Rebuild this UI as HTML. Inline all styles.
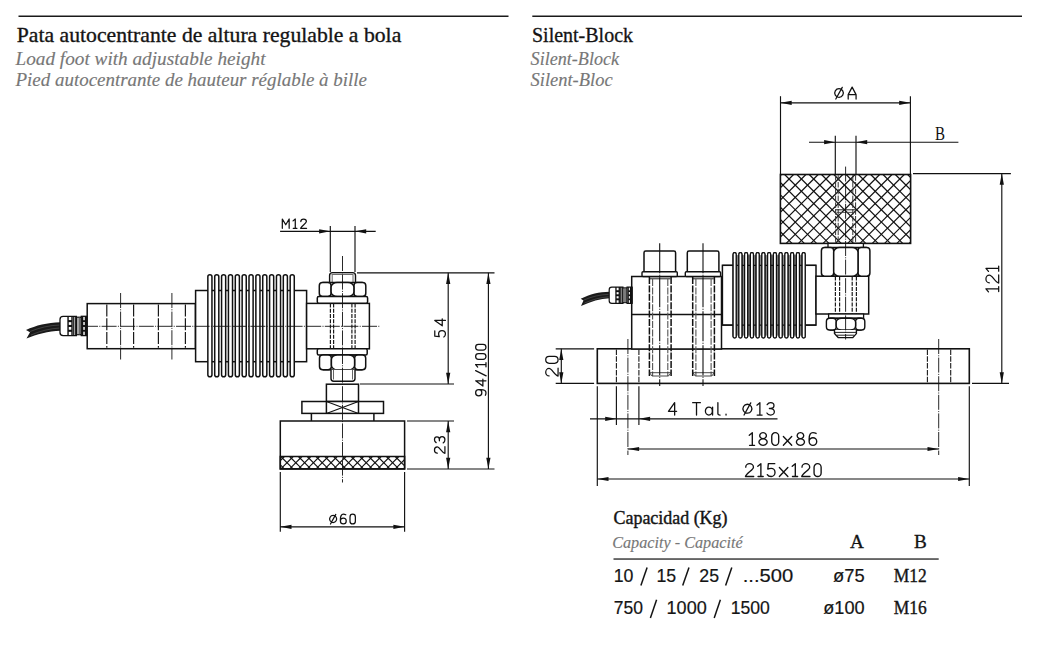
<!DOCTYPE html>
<html><head><meta charset="utf-8"><style>
html,body{margin:0;padding:0;background:#fff;width:1051px;height:653px;overflow:hidden}
svg{position:absolute;left:0;top:0}
text{font-family:"Liberation Serif",serif}
.sans{font-family:"Liberation Sans",sans-serif}
</style></head><body>
<svg width="1051" height="653" viewBox="0 0 1051 653">
<rect width="1051" height="653" fill="#fff"/>
<g>
<text x="16.8" y="41.9" font-size="20.6" fill="#141414" stroke="#141414" stroke-width="0.32" textLength="384.5" lengthAdjust="spacingAndGlyphs">Pata autocentrante de altura regulable a bola</text>
<text x="15.5" y="64.7" font-size="18.6" font-style="italic" fill="#777" stroke="#777" stroke-width="0.15" textLength="250" lengthAdjust="spacingAndGlyphs">Load foot with adjustable height</text>
<text x="15.5" y="86.2" font-size="18.6" font-style="italic" fill="#777" stroke="#777" stroke-width="0.15" textLength="351.5" lengthAdjust="spacingAndGlyphs">Pied autocentrante de hauteur réglable à bille</text>
<text x="532" y="41.9" font-size="20.6" fill="#141414" stroke="#141414" stroke-width="0.32" textLength="101" lengthAdjust="spacingAndGlyphs">Silent-Block</text>
<text x="530.6" y="64.7" font-size="18.6" font-style="italic" fill="#777" stroke="#777" stroke-width="0.15" textLength="88.5" lengthAdjust="spacingAndGlyphs">Silent-Block</text>
<text x="530.6" y="86.2" font-size="18.6" font-style="italic" fill="#777" stroke="#777" stroke-width="0.15" textLength="82" lengthAdjust="spacingAndGlyphs">Silent-Bloc</text>
</g>
<line x1="18.5" y1="16.3" x2="508.5" y2="16.3" stroke="#1a1a1a" stroke-width="1.4"/><line x1="532.3" y1="16.3" x2="1022" y2="16.3" stroke="#1a1a1a" stroke-width="1.4"/><path d="M26,330 C36,325.5 47,322.6 60.5,322.3 L60.5,330.7 C48,331.2 37,334 26.5,338.6 L30,332.3 Z" fill="#1a1a1a"/><path d="M30,331.5 C40,327.5 49,325.4 60,325 M31,335 C40,331 50,328.5 60,328" stroke="#666" stroke-width="0.5" fill="none"/><path d="M68.19,316.3 H63.09 Q60,316.3 60,319.39 V332.51 Q60,335.6 63.09,335.6 H76.38 V316.3 Z" fill="#fff" stroke="#111" stroke-width="1.3"/><path d="M68.05,316.3 V335.6 M72.01,316.3 V335.6" stroke="#111" stroke-width="1.43"/><line x1="68.05" y1="321.12" x2="72.01" y2="321.12" stroke="#111" stroke-width="2.08"/><line x1="68.05" y1="325.95" x2="72.01" y2="325.95" stroke="#111" stroke-width="2.08"/><line x1="68.05" y1="330.78" x2="72.01" y2="330.78" stroke="#111" stroke-width="2.08"/><path d="M73.65,316.3 V335.6 M75.29,316.3 V335.6" stroke="#111" stroke-width="1.04"/><rect x="76.38" y="317.26" width="4.91" height="17.37" fill="#fff" stroke="#111" stroke-width="1.3"/><path d="M78.02,317.26 V334.64 M79.66,317.26 V334.64" stroke="#555" stroke-width="1.04"/><rect x="81.29" y="316.3" width="6.01" height="19.30" fill="#fff" stroke="#111" stroke-width="1.3"/><path d="M82.66,316.3 V335.6 M85.39,316.3 V335.6" stroke="#111" stroke-width="1.3"/><line x1="82.66" y1="321.12" x2="85.39" y2="321.12" stroke="#111" stroke-width="1.82"/><line x1="82.66" y1="325.95" x2="85.39" y2="325.95" stroke="#111" stroke-width="1.82"/><line x1="82.66" y1="330.78" x2="85.39" y2="330.78" stroke="#111" stroke-width="1.82"/><line x1="86.70" y1="316.3" x2="86.70" y2="335.6" stroke="#111" stroke-width="2.08"/><rect x="87.2" y="303.6" width="108.20" height="45.10" fill="#fff" stroke="#111" stroke-width="1.5"/><line x1="106.8" y1="304.5" x2="106.8" y2="347.8" stroke="#1a1a1a" stroke-width="1.2" stroke-dasharray="12 1.8"/><line x1="133.6" y1="304.5" x2="133.6" y2="347.8" stroke="#1a1a1a" stroke-width="1.2" stroke-dasharray="12 1.8"/><line x1="158.4" y1="304.5" x2="158.4" y2="347.8" stroke="#1a1a1a" stroke-width="1.2" stroke-dasharray="12 1.8"/><line x1="185.4" y1="304.5" x2="185.4" y2="347.8" stroke="#1a1a1a" stroke-width="1.2" stroke-dasharray="12 1.8"/><rect x="195.6" y="290.5" width="111.00" height="71.20" fill="#fff" stroke="#111" stroke-width="1.5"/><rect x="207.85" y="274.65" width="4.10" height="102.20" rx="2.05" fill="#fff" stroke="#111" stroke-width="1.5"/><rect x="214.71" y="274.65" width="4.10" height="102.20" rx="2.05" fill="#fff" stroke="#111" stroke-width="1.5"/><rect x="221.57" y="274.65" width="4.10" height="102.20" rx="2.05" fill="#fff" stroke="#111" stroke-width="1.5"/><rect x="228.43" y="274.65" width="4.10" height="102.20" rx="2.05" fill="#fff" stroke="#111" stroke-width="1.5"/><rect x="235.29" y="274.65" width="4.10" height="102.20" rx="2.05" fill="#fff" stroke="#111" stroke-width="1.5"/><rect x="242.15" y="274.65" width="4.10" height="102.20" rx="2.05" fill="#fff" stroke="#111" stroke-width="1.5"/><rect x="249.01" y="274.65" width="4.10" height="102.20" rx="2.05" fill="#fff" stroke="#111" stroke-width="1.5"/><rect x="255.87" y="274.65" width="4.10" height="102.20" rx="2.05" fill="#fff" stroke="#111" stroke-width="1.5"/><rect x="262.73" y="274.65" width="4.10" height="102.20" rx="2.05" fill="#fff" stroke="#111" stroke-width="1.5"/><rect x="269.59" y="274.65" width="4.10" height="102.20" rx="2.05" fill="#fff" stroke="#111" stroke-width="1.5"/><rect x="276.45" y="274.65" width="4.10" height="102.20" rx="2.05" fill="#fff" stroke="#111" stroke-width="1.5"/><rect x="283.31" y="274.65" width="4.10" height="102.20" rx="2.05" fill="#fff" stroke="#111" stroke-width="1.5"/><rect x="290.17" y="274.65" width="4.10" height="102.20" rx="2.05" fill="#fff" stroke="#111" stroke-width="1.5"/><rect x="306.6" y="303.4" width="62.80" height="45.40" fill="#fff" stroke="#111" stroke-width="1.5"/><path d="M329.6,282.5 V275.5 Q329.6,272.6 332.5,272.6 H352.6 Q355.5,272.6 355.5,275.5 V282.5" fill="#fff" stroke="#111" stroke-width="1.4"/><line x1="331.5" y1="274.3" x2="353.5" y2="274.3" stroke="#333" stroke-width="0.9"/><line x1="332.2" y1="275" x2="332.2" y2="282.5" stroke="#555" stroke-width="0.9"/><line x1="353" y1="275" x2="353" y2="282.5" stroke="#555" stroke-width="0.9"/><path d="M322.5,282.5 H362.6 M322.5,296.5 H362.6" stroke="#111" stroke-width="1.5"/><rect x="319.3" y="282.5" width="11.80" height="14.00" rx="3.20" ry="3.20" fill="#fff" stroke="#111" stroke-width="1.5"/><rect x="353.9" y="282.5" width="11.90" height="14.00" rx="3.20" ry="3.20" fill="#fff" stroke="#111" stroke-width="1.5"/><rect x="331.1" y="282.5" width="22.80" height="14.00" rx="6.00" ry="4.50" fill="#fff" stroke="#111" stroke-width="1.5"/><rect x="317.3" y="296.5" width="50.30" height="6.70" fill="#fff" stroke="#111" stroke-width="1.5" rx="1.5"/><rect x="317.3" y="348.8" width="49.90" height="6.10" fill="#fff" stroke="#111" stroke-width="1.5" rx="1.5"/><path d="M322.7,354.9 H362.5 M322.7,369.8 H362.5" stroke="#111" stroke-width="1.5"/><rect x="319.5" y="354.9" width="11.90" height="14.90" rx="3.20" ry="3.20" fill="#fff" stroke="#111" stroke-width="1.5"/><rect x="354.6" y="354.9" width="11.10" height="14.90" rx="3.20" ry="3.20" fill="#fff" stroke="#111" stroke-width="1.5"/><rect x="331.4" y="354.9" width="23.20" height="14.90" rx="6.00" ry="4.50" fill="#fff" stroke="#111" stroke-width="1.5"/><path d="M331,369.8 V378.5 Q331,381.2 333.7,381.2 H352.3 Q355,381.2 355,378.5 V369.8" fill="#fff" stroke="#111" stroke-width="1.4"/><line x1="333.5" y1="370" x2="333.5" y2="379.5" stroke="#555" stroke-width="0.9"/><line x1="352.5" y1="370" x2="352.5" y2="379.5" stroke="#555" stroke-width="0.9"/><line x1="330.4" y1="303.6" x2="330.4" y2="348.6" stroke="#1a1a1a" stroke-width="1.2" stroke-dasharray="4 1.2"/><line x1="333.6" y1="303.6" x2="333.6" y2="348.6" stroke="#1a1a1a" stroke-width="1.2" stroke-dasharray="4 1.2"/><line x1="351.9" y1="303.6" x2="351.9" y2="348.6" stroke="#1a1a1a" stroke-width="1.2" stroke-dasharray="4 1.2"/><line x1="355.1" y1="303.6" x2="355.1" y2="348.6" stroke="#1a1a1a" stroke-width="1.2" stroke-dasharray="4 1.2"/><rect x="326.4" y="384.2" width="32.10" height="17.30" fill="#fff" stroke="#111" stroke-width="1.5"/><rect x="301.9" y="401.5" width="81.60" height="11.90" fill="#fff" stroke="#111" stroke-width="1.5"/><line x1="326.4" y1="401.5" x2="358.5" y2="413.4" stroke="#111" stroke-width="1.1"/><line x1="326.4" y1="413.4" x2="358.5" y2="401.5" stroke="#111" stroke-width="1.1"/><line x1="326.4" y1="401.5" x2="326.4" y2="413.4" stroke="#111" stroke-width="1.5"/><line x1="358.5" y1="401.5" x2="358.5" y2="413.4" stroke="#111" stroke-width="1.5"/><line x1="311.4" y1="413.4" x2="311.4" y2="421" stroke="#111" stroke-width="1.5"/><line x1="373.9" y1="413.4" x2="373.9" y2="421" stroke="#111" stroke-width="1.5"/><rect x="280.3" y="421" width="124.30" height="48.00" fill="#fff" stroke="#111" stroke-width="1.5"/><clipPath id="hp"><rect x="280.3" y="456.5" width="124.30000000000001" height="12.300000000000011"/></clipPath><g clip-path="url(#hp)" stroke="#111" stroke-width="1.1"><line x1="421.60" y1="456.5" x2="433.90" y2="468.8"/><line x1="412.80" y1="456.5" x2="425.10" y2="468.8"/><line x1="404.00" y1="456.5" x2="416.30" y2="468.8"/><line x1="395.20" y1="456.5" x2="407.50" y2="468.8"/><line x1="386.40" y1="456.5" x2="398.70" y2="468.8"/><line x1="377.60" y1="456.5" x2="389.90" y2="468.8"/><line x1="368.80" y1="456.5" x2="381.10" y2="468.8"/><line x1="360.00" y1="456.5" x2="372.30" y2="468.8"/><line x1="351.20" y1="456.5" x2="363.50" y2="468.8"/><line x1="342.40" y1="456.5" x2="354.70" y2="468.8"/><line x1="333.60" y1="456.5" x2="345.90" y2="468.8"/><line x1="324.80" y1="456.5" x2="337.10" y2="468.8"/><line x1="316.00" y1="456.5" x2="328.30" y2="468.8"/><line x1="307.20" y1="456.5" x2="319.50" y2="468.8"/><line x1="298.40" y1="456.5" x2="310.70" y2="468.8"/><line x1="289.60" y1="456.5" x2="301.90" y2="468.8"/><line x1="280.80" y1="456.5" x2="293.10" y2="468.8"/><line x1="272.00" y1="456.5" x2="284.30" y2="468.8"/><line x1="263.20" y1="456.5" x2="275.50" y2="468.8"/><line x1="254.40" y1="456.5" x2="266.70" y2="468.8"/><line x1="266.80" y1="456.5" x2="254.50" y2="468.8"/><line x1="275.60" y1="456.5" x2="263.30" y2="468.8"/><line x1="284.40" y1="456.5" x2="272.10" y2="468.8"/><line x1="293.20" y1="456.5" x2="280.90" y2="468.8"/><line x1="302.00" y1="456.5" x2="289.70" y2="468.8"/><line x1="310.80" y1="456.5" x2="298.50" y2="468.8"/><line x1="319.60" y1="456.5" x2="307.30" y2="468.8"/><line x1="328.40" y1="456.5" x2="316.10" y2="468.8"/><line x1="337.20" y1="456.5" x2="324.90" y2="468.8"/><line x1="346.00" y1="456.5" x2="333.70" y2="468.8"/><line x1="354.80" y1="456.5" x2="342.50" y2="468.8"/><line x1="363.60" y1="456.5" x2="351.30" y2="468.8"/><line x1="372.40" y1="456.5" x2="360.10" y2="468.8"/><line x1="381.20" y1="456.5" x2="368.90" y2="468.8"/><line x1="390.00" y1="456.5" x2="377.70" y2="468.8"/><line x1="398.80" y1="456.5" x2="386.50" y2="468.8"/><line x1="407.60" y1="456.5" x2="395.30" y2="468.8"/><line x1="416.40" y1="456.5" x2="404.10" y2="468.8"/><line x1="425.20" y1="456.5" x2="412.90" y2="468.8"/><line x1="434.00" y1="456.5" x2="421.70" y2="468.8"/></g><rect x="280.3" y="456.5" width="124.3" height="12.3" fill="none" stroke="#111" stroke-width="1.5"/><line x1="83" y1="326.3" x2="380" y2="326.3" stroke="#111" stroke-width="0.9" stroke-dasharray="15 1.3 1 1.3"/><line x1="120.6" y1="293" x2="120.6" y2="359.5" stroke="#111" stroke-width="0.9" stroke-dasharray="15 1.3 1 1.3"/><line x1="171.9" y1="293" x2="171.9" y2="359.5" stroke="#111" stroke-width="0.9" stroke-dasharray="15 1.3 1 1.3"/><line x1="342.5" y1="256" x2="342.5" y2="482.5" stroke="#111" stroke-width="0.9" stroke-dasharray="15 1.3 1 1.3"/><line x1="330.3" y1="226" x2="330.3" y2="272" stroke="#111" stroke-width="1.15"/><line x1="355" y1="226" x2="355" y2="272" stroke="#111" stroke-width="1.15"/><line x1="280.1" y1="231.3" x2="375.7" y2="231.3" stroke="#111" stroke-width="1.15"/><path d="M330.3,231.3 L319.10,233.40 L319.10,229.20 Z" fill="#111"/><path d="M355,231.3 L366.20,229.20 L366.20,233.40 Z" fill="#111"/><g fill="none" stroke="#111" stroke-width="1.25" stroke-linecap="round" stroke-linejoin="round" style="vector-effect:none"><path vector-effect="non-scaling-stroke" transform="translate(282.32,219.03) scale(9.250)" d="M0,1 V0 L0.37,0.62 L0.74,0 V1"/><path vector-effect="non-scaling-stroke" transform="translate(293.06,219.03) scale(9.250)" d="M0,0.2 L0.24,0 V1 M0.02,1 H0.42"/><path vector-effect="non-scaling-stroke" transform="translate(300.64,219.03) scale(9.250)" d="M0.02,0.27 A0.3,0.27 0 0 1 0.62,0.27 C0.62,0.5 0.08,0.7 0,1 H0.64"/></g><line x1="357" y1="272.8" x2="494.5" y2="272.8" stroke="#111" stroke-width="1.15"/><line x1="360" y1="384" x2="454" y2="384" stroke="#111" stroke-width="1.15"/><line x1="407" y1="421" x2="454" y2="421" stroke="#111" stroke-width="1.15"/><line x1="407" y1="469" x2="494.5" y2="469" stroke="#111" stroke-width="1.15"/><line x1="448.2" y1="272.8" x2="448.2" y2="384" stroke="#111" stroke-width="1.15"/><path d="M448.2,272.8 L450.30,284.00 L446.10,284.00 Z" fill="#111"/><path d="M448.2,384 L446.10,372.80 L450.30,372.80 Z" fill="#111"/><line x1="448.2" y1="421" x2="448.2" y2="469" stroke="#111" stroke-width="1.15"/><path d="M448.2,421 L450.30,432.20 L446.10,432.20 Z" fill="#111"/><path d="M448.2,469 L446.10,457.80 L450.30,457.80 Z" fill="#111"/><line x1="488.4" y1="272.8" x2="488.4" y2="469" stroke="#111" stroke-width="1.15"/><path d="M488.4,272.8 L490.50,284.00 L486.30,284.00 Z" fill="#111"/><path d="M488.4,469 L486.30,457.80 L490.50,457.80 Z" fill="#111"/><g transform="rotate(-90 440.1 328)" fill="none" stroke="#111" stroke-width="1.25" stroke-linecap="round" stroke-linejoin="round" style="vector-effect:none"><path vector-effect="non-scaling-stroke" transform="translate(431.08,322.68) scale(10.650)" d="M0.58,0 H0.08 L0.04,0.42 C0.12,0.38 0.22,0.36 0.3,0.36 A0.3,0.32 0 0 1 0.3,1 C0.18,1 0.06,0.96 0,0.85"/><path vector-effect="non-scaling-stroke" transform="translate(442.31,322.68) scale(10.650)" d="M0.5,1 V0 L0,0.7 H0.66"/></g><g transform="rotate(-90 480.8 370.1)" fill="none" stroke="#111" stroke-width="1.25" stroke-linecap="round" stroke-linejoin="round" style="vector-effect:none"><path vector-effect="non-scaling-stroke" transform="translate(455.07,364.93) scale(10.350)" d="M0.05,0.94 C0.13,0.98 0.22,1 0.3,1 C0.5,1 0.6,0.78 0.6,0.5 V0.3 A0.3,0.3 0 0 0 0,0.3 A0.3,0.3 0 0 0 0.6,0.3"/><path vector-effect="non-scaling-stroke" transform="translate(464.87,364.93) scale(10.350)" d="M0.5,1 V0 L0,0.7 H0.66"/><path vector-effect="non-scaling-stroke" transform="translate(475.08,364.93) scale(10.350)" d="M0,1.02 L0.5,0"/><path vector-effect="non-scaling-stroke" transform="translate(483.83,364.93) scale(10.350)" d="M0,0.2 L0.24,0 V1 M0.02,1 H0.42"/><path vector-effect="non-scaling-stroke" transform="translate(491.56,364.93) scale(10.350)" d="M0,0.28 A0.275,0.28 0 0 1 0.55,0.28 V0.72 A0.275,0.28 0 0 1 0,0.72 Z"/><path vector-effect="non-scaling-stroke" transform="translate(500.83,364.93) scale(10.350)" d="M0,0.28 A0.275,0.28 0 0 1 0.55,0.28 V0.72 A0.275,0.28 0 0 1 0,0.72 Z"/></g><g transform="rotate(-90 439.7 445)" fill="none" stroke="#111" stroke-width="1.25" stroke-linecap="round" stroke-linejoin="round" style="vector-effect:none"><path vector-effect="non-scaling-stroke" transform="translate(431.27,439.77) scale(10.450)" d="M0.02,0.27 A0.3,0.27 0 0 1 0.62,0.27 C0.62,0.5 0.08,0.7 0,1 H0.64"/><path vector-effect="non-scaling-stroke" transform="translate(441.85,439.77) scale(10.450)" d="M0.02,0.16 C0.1,0.04 0.2,0 0.3,0 A0.27,0.235 0 0 1 0.3,0.47 H0.2 M0.3,0.47 A0.3,0.265 0 0 1 0.3,1 C0.18,1 0.06,0.96 0,0.84"/></g><line x1="280.3" y1="472" x2="280.3" y2="531.8" stroke="#111" stroke-width="1.15"/><line x1="404.6" y1="472" x2="404.6" y2="531.8" stroke="#111" stroke-width="1.15"/><line x1="280.3" y1="526.8" x2="404.6" y2="526.8" stroke="#111" stroke-width="1.15"/><path d="M280.3,526.8 L291.50,524.70 L291.50,528.90 Z" fill="#111"/><path d="M404.6,526.8 L393.40,528.90 L393.40,524.70 Z" fill="#111"/><g fill="none" stroke="#111" stroke-width="1.25" stroke-linecap="round" stroke-linejoin="round" style="vector-effect:none"><path vector-effect="non-scaling-stroke" transform="translate(329.62,514.23) scale(9.750)" d="M0.36,0.13 A0.36,0.36 0 1 1 0.359,0.13 Z M0.09,1.0 L0.63,0.02"/><path vector-effect="non-scaling-stroke" transform="translate(340.40,514.23) scale(9.750)" d="M0.55,0.06 C0.47,0.02 0.38,0 0.3,0 C0.1,0 0,0.22 0,0.5 V0.7 A0.3,0.3 0 0 0 0.6,0.7 A0.3,0.3 0 0 0 0,0.7"/><path vector-effect="non-scaling-stroke" transform="translate(350.01,514.23) scale(9.750)" d="M0,0.28 A0.275,0.28 0 0 1 0.55,0.28 V0.72 A0.275,0.28 0 0 1 0,0.72 Z"/></g><line x1="780.5" y1="96.2" x2="780.5" y2="174" stroke="#111" stroke-width="1.15"/><line x1="910.4" y1="96.2" x2="910.4" y2="174" stroke="#111" stroke-width="1.15"/><line x1="780.5" y1="102.8" x2="910.4" y2="102.8" stroke="#111" stroke-width="1.15"/><path d="M780.5,102.8 L791.70,100.70 L791.70,104.90 Z" fill="#111"/><path d="M910.4,102.8 L899.20,104.90 L899.20,100.70 Z" fill="#111"/><g fill="none" stroke="#111" stroke-width="1.25" stroke-linecap="round" stroke-linejoin="round" style="vector-effect:none"><path vector-effect="non-scaling-stroke" transform="translate(834.73,87.12) scale(11.950)" d="M0.36,0.13 A0.36,0.36 0 1 1 0.359,0.13 Z M0.09,1.0 L0.63,0.02"/><path vector-effect="non-scaling-stroke" transform="translate(848.19,87.12) scale(11.950)" d="M0,1 V0.63 L0.33,0 L0.66,0.63 V1 M0,0.63 H0.66"/></g><line x1="809" y1="142.2" x2="958.4" y2="142.2" stroke="#111" stroke-width="1.15"/><line x1="835.3" y1="135.8" x2="835.3" y2="174" stroke="#111" stroke-width="1.15"/><line x1="856" y1="135.8" x2="856" y2="174" stroke="#111" stroke-width="1.15"/><path d="M835.3,142.2 L824.10,144.30 L824.10,140.10 Z" fill="#111"/><path d="M856,142.2 L867.20,140.10 L867.20,144.30 Z" fill="#111"/><text x="935" y="139.7" font-family="Liberation Serif" font-size="19.5" fill="#111" textLength="10" lengthAdjust="spacingAndGlyphs">B</text><rect x="780.4" y="174.5" width="130.2" height="68.9" fill="#fff"/><clipPath id="hb"><rect x="780.4" y="174.5" width="130.20000000000005" height="68.9"/></clipPath><g clip-path="url(#hb)" stroke="#111" stroke-width="1.2"><line x1="932.20" y1="174.5" x2="1001.10" y2="243.4"/><line x1="919.90" y1="174.5" x2="988.80" y2="243.4"/><line x1="907.60" y1="174.5" x2="976.50" y2="243.4"/><line x1="895.30" y1="174.5" x2="964.20" y2="243.4"/><line x1="883.00" y1="174.5" x2="951.90" y2="243.4"/><line x1="870.70" y1="174.5" x2="939.60" y2="243.4"/><line x1="858.40" y1="174.5" x2="927.30" y2="243.4"/><line x1="846.10" y1="174.5" x2="915.00" y2="243.4"/><line x1="833.80" y1="174.5" x2="902.70" y2="243.4"/><line x1="821.50" y1="174.5" x2="890.40" y2="243.4"/><line x1="809.20" y1="174.5" x2="878.10" y2="243.4"/><line x1="796.90" y1="174.5" x2="865.80" y2="243.4"/><line x1="784.60" y1="174.5" x2="853.50" y2="243.4"/><line x1="772.30" y1="174.5" x2="841.20" y2="243.4"/><line x1="760.00" y1="174.5" x2="828.90" y2="243.4"/><line x1="747.70" y1="174.5" x2="816.60" y2="243.4"/><line x1="735.40" y1="174.5" x2="804.30" y2="243.4"/><line x1="723.10" y1="174.5" x2="792.00" y2="243.4"/><line x1="710.80" y1="174.5" x2="779.70" y2="243.4"/><line x1="698.50" y1="174.5" x2="767.40" y2="243.4"/><line x1="756.70" y1="174.5" x2="687.80" y2="243.4"/><line x1="769.00" y1="174.5" x2="700.10" y2="243.4"/><line x1="781.30" y1="174.5" x2="712.40" y2="243.4"/><line x1="793.60" y1="174.5" x2="724.70" y2="243.4"/><line x1="805.90" y1="174.5" x2="737.00" y2="243.4"/><line x1="818.20" y1="174.5" x2="749.30" y2="243.4"/><line x1="830.50" y1="174.5" x2="761.60" y2="243.4"/><line x1="842.80" y1="174.5" x2="773.90" y2="243.4"/><line x1="855.10" y1="174.5" x2="786.20" y2="243.4"/><line x1="867.40" y1="174.5" x2="798.50" y2="243.4"/><line x1="879.70" y1="174.5" x2="810.80" y2="243.4"/><line x1="892.00" y1="174.5" x2="823.10" y2="243.4"/><line x1="904.30" y1="174.5" x2="835.40" y2="243.4"/><line x1="916.60" y1="174.5" x2="847.70" y2="243.4"/><line x1="928.90" y1="174.5" x2="860.00" y2="243.4"/><line x1="941.20" y1="174.5" x2="872.30" y2="243.4"/><line x1="953.50" y1="174.5" x2="884.60" y2="243.4"/><line x1="965.80" y1="174.5" x2="896.90" y2="243.4"/><line x1="978.10" y1="174.5" x2="909.20" y2="243.4"/><line x1="990.40" y1="174.5" x2="921.50" y2="243.4"/><line x1="1002.70" y1="174.5" x2="933.80" y2="243.4"/></g><rect x="780.4" y="174.5" width="130.20" height="68.90" fill="none" stroke="#111" stroke-width="1.6"/><line x1="835.6" y1="175.2" x2="835.6" y2="242.8" stroke="#333" stroke-width="1.0" stroke-dasharray="5.5 1.3"/><line x1="838.2" y1="175.2" x2="838.2" y2="242.8" stroke="#333" stroke-width="1.0" stroke-dasharray="5.5 1.3"/><line x1="852.8" y1="175.2" x2="852.8" y2="242.8" stroke="#333" stroke-width="1.0" stroke-dasharray="5.5 1.3"/><line x1="855.6" y1="175.2" x2="855.6" y2="242.8" stroke="#333" stroke-width="1.0" stroke-dasharray="5.5 1.3"/><line x1="835.6" y1="209.8" x2="855.6" y2="209.8" stroke="#222" stroke-width="1.0"/><line x1="836.5" y1="212.4" x2="854.8" y2="212.4" stroke="#444" stroke-width="0.9"/><line x1="913" y1="173.6" x2="1010.9" y2="173.6" stroke="#111" stroke-width="1.15"/><rect x="828" y="243.4" width="35.40" height="4.30" fill="#fff" stroke="#111" stroke-width="1.3"/><rect x="722.4" y="265.3" width="93.60" height="59.80" fill="#fff" stroke="#111" stroke-width="1.5"/><rect x="732.5" y="255.1" width="73.30" height="80.50" fill="#8a8a8a"/><rect x="733.12" y="252.72" width="3.05" height="85.25" rx="1.52" fill="#fff" stroke="#111" stroke-width="1.25"/><rect x="738.88" y="252.72" width="3.05" height="85.25" rx="1.52" fill="#fff" stroke="#111" stroke-width="1.25"/><rect x="744.62" y="252.72" width="3.05" height="85.25" rx="1.52" fill="#fff" stroke="#111" stroke-width="1.25"/><rect x="750.38" y="252.72" width="3.05" height="85.25" rx="1.52" fill="#fff" stroke="#111" stroke-width="1.25"/><rect x="756.12" y="252.72" width="3.05" height="85.25" rx="1.52" fill="#fff" stroke="#111" stroke-width="1.25"/><rect x="761.88" y="252.72" width="3.05" height="85.25" rx="1.52" fill="#fff" stroke="#111" stroke-width="1.25"/><rect x="767.62" y="252.72" width="3.05" height="85.25" rx="1.52" fill="#fff" stroke="#111" stroke-width="1.25"/><rect x="773.38" y="252.72" width="3.05" height="85.25" rx="1.52" fill="#fff" stroke="#111" stroke-width="1.25"/><rect x="779.12" y="252.72" width="3.05" height="85.25" rx="1.52" fill="#fff" stroke="#111" stroke-width="1.25"/><rect x="784.88" y="252.72" width="3.05" height="85.25" rx="1.52" fill="#fff" stroke="#111" stroke-width="1.25"/><rect x="790.62" y="252.72" width="3.05" height="85.25" rx="1.52" fill="#fff" stroke="#111" stroke-width="1.25"/><rect x="796.38" y="252.72" width="3.05" height="85.25" rx="1.52" fill="#fff" stroke="#111" stroke-width="1.25"/><rect x="802.12" y="252.72" width="3.05" height="85.25" rx="1.52" fill="#fff" stroke="#111" stroke-width="1.25"/><line x1="722.4" y1="265.3" x2="816" y2="265.3" stroke="#111" stroke-width="1.3"/><line x1="722.4" y1="325.1" x2="816" y2="325.1" stroke="#111" stroke-width="1.3"/><rect x="733.12" y="252.72" width="3.05" height="85.25" rx="1.52" fill="#fff" stroke="#111" stroke-width="1.25"/><rect x="738.88" y="252.72" width="3.05" height="85.25" rx="1.52" fill="#fff" stroke="#111" stroke-width="1.25"/><rect x="744.62" y="252.72" width="3.05" height="85.25" rx="1.52" fill="#fff" stroke="#111" stroke-width="1.25"/><rect x="750.38" y="252.72" width="3.05" height="85.25" rx="1.52" fill="#fff" stroke="#111" stroke-width="1.25"/><rect x="756.12" y="252.72" width="3.05" height="85.25" rx="1.52" fill="#fff" stroke="#111" stroke-width="1.25"/><rect x="761.88" y="252.72" width="3.05" height="85.25" rx="1.52" fill="#fff" stroke="#111" stroke-width="1.25"/><rect x="767.62" y="252.72" width="3.05" height="85.25" rx="1.52" fill="#fff" stroke="#111" stroke-width="1.25"/><rect x="773.38" y="252.72" width="3.05" height="85.25" rx="1.52" fill="#fff" stroke="#111" stroke-width="1.25"/><rect x="779.12" y="252.72" width="3.05" height="85.25" rx="1.52" fill="#fff" stroke="#111" stroke-width="1.25"/><rect x="784.88" y="252.72" width="3.05" height="85.25" rx="1.52" fill="#fff" stroke="#111" stroke-width="1.25"/><rect x="790.62" y="252.72" width="3.05" height="85.25" rx="1.52" fill="#fff" stroke="#111" stroke-width="1.25"/><rect x="796.38" y="252.72" width="3.05" height="85.25" rx="1.52" fill="#fff" stroke="#111" stroke-width="1.25"/><rect x="802.12" y="252.72" width="3.05" height="85.25" rx="1.52" fill="#fff" stroke="#111" stroke-width="1.25"/><rect x="816" y="276.2" width="52.70" height="37.80" fill="#fff" stroke="#111" stroke-width="1.5"/><path d="M824.6,247.6 H866.6999999999999 M824.6,276.2 H866.6999999999999" stroke="#111" stroke-width="1.5"/><rect x="821.4" y="247.6" width="12.30" height="28.60" rx="3.20" ry="3.20" fill="#fff" stroke="#111" stroke-width="1.5"/><rect x="858" y="247.6" width="11.90" height="28.60" rx="3.20" ry="3.20" fill="#fff" stroke="#111" stroke-width="1.5"/><rect x="833.7" y="247.6" width="24.30" height="28.60" rx="6.00" ry="4.50" fill="#fff" stroke="#111" stroke-width="1.5"/><line x1="835.4" y1="276.5" x2="835.4" y2="313.7" stroke="#1a1a1a" stroke-width="1.2" stroke-dasharray="4 1.2"/><line x1="839.6" y1="276.5" x2="839.6" y2="313.7" stroke="#1a1a1a" stroke-width="1.2" stroke-dasharray="4 1.2"/><line x1="852.2" y1="276.5" x2="852.2" y2="313.7" stroke="#1a1a1a" stroke-width="1.2" stroke-dasharray="4 1.2"/><line x1="856.4" y1="276.5" x2="856.4" y2="313.7" stroke="#1a1a1a" stroke-width="1.2" stroke-dasharray="4 1.2"/><rect x="828.6" y="314" width="35.00" height="4.30" fill="#fff" stroke="#111" stroke-width="1.3"/><path d="M829.6,318.3 H861.5999999999999 M829.6,330 H861.5999999999999" stroke="#111" stroke-width="1.4"/><rect x="826.4" y="318.3" width="9.80" height="11.70" rx="3.20" ry="3.20" fill="#fff" stroke="#111" stroke-width="1.4"/><rect x="855.6" y="318.3" width="9.20" height="11.70" rx="3.20" ry="3.20" fill="#fff" stroke="#111" stroke-width="1.4"/><rect x="836.2" y="318.3" width="19.40" height="11.70" rx="5.43" ry="4.21" fill="#fff" stroke="#111" stroke-width="1.4"/><path d="M834.5,330 V333.6 L838.2,337.6 H852.8 L856.4,333.6 V330" fill="#fff" stroke="#111" stroke-width="1.4"/><line x1="835" y1="332.4" x2="856" y2="332.4" stroke="#222" stroke-width="1.0"/><line x1="837" y1="335.2" x2="854" y2="335.2" stroke="#222" stroke-width="1.0"/><line x1="845.6" y1="166.6" x2="845.6" y2="339.5" stroke="#111" stroke-width="0.9" stroke-dasharray="15 1.3 1 1.3"/><rect x="597.3" y="348.8" width="372.00" height="34.60" fill="#fff" stroke="#111" stroke-width="1.6"/><rect x="631.7" y="276.5" width="89.80" height="72.50" fill="#fff" stroke="#111" stroke-width="1.5"/><line x1="631.7" y1="314.5" x2="721.5" y2="314.5" stroke="#111" stroke-width="1.5"/><path d="M644,271.8 V252.8 Q644,251.1 645.7,251.1 H673.9 Q675.6,251.1 675.6,252.8 V271.8" fill="#fff" stroke="#111" stroke-width="1.5"/><line x1="649.3" y1="278.8" x2="670.5" y2="278.8" stroke="#222" stroke-width="1.0"/><rect x="642" y="271.8" width="35.30" height="4.70" fill="#fff" stroke="#111" stroke-width="1.4" rx="1"/><line x1="649.4" y1="277" x2="649.4" y2="376" stroke="#111" stroke-width="1.5" stroke-dasharray="7 1.4"/><line x1="671.1" y1="277" x2="671.1" y2="376" stroke="#111" stroke-width="1.5" stroke-dasharray="7 1.4"/><line x1="652.6" y1="279" x2="652.6" y2="376" stroke="#555" stroke-width="1.1" stroke-dasharray="7 1.4"/><line x1="667.8" y1="279" x2="667.8" y2="376" stroke="#555" stroke-width="1.1" stroke-dasharray="7 1.4"/><path d="M649.5,372.7 L652,376 H668.5 L671,372.7 Z" fill="none" stroke="#333" stroke-width="0.9"/><line x1="659.7" y1="243.3" x2="659.7" y2="386" stroke="#111" stroke-width="1.1" stroke-dasharray="30 1.5 1 1.5"/><path d="M687.3,271.8 V252.8 Q687.3,251.1 689.0,251.1 H717.1999999999999 Q718.9,251.1 718.9,252.8 V271.8" fill="#fff" stroke="#111" stroke-width="1.5"/><line x1="692.5999999999999" y1="278.8" x2="713.8" y2="278.8" stroke="#222" stroke-width="1.0"/><rect x="685.3" y="271.8" width="35.30" height="4.70" fill="#fff" stroke="#111" stroke-width="1.4" rx="1"/><line x1="692.6999999999999" y1="277" x2="692.6999999999999" y2="376" stroke="#111" stroke-width="1.5" stroke-dasharray="7 1.4"/><line x1="714.4" y1="277" x2="714.4" y2="376" stroke="#111" stroke-width="1.5" stroke-dasharray="7 1.4"/><line x1="695.9" y1="279" x2="695.9" y2="376" stroke="#555" stroke-width="1.1" stroke-dasharray="7 1.4"/><line x1="711.0999999999999" y1="279" x2="711.0999999999999" y2="376" stroke="#555" stroke-width="1.1" stroke-dasharray="7 1.4"/><path d="M692.8,372.7 L695.3,376 H711.8 L714.3,372.7 Z" fill="none" stroke="#333" stroke-width="0.9"/><line x1="703.0" y1="243.3" x2="703.0" y2="386" stroke="#111" stroke-width="1.1" stroke-dasharray="30 1.5 1 1.5"/><line x1="616.4" y1="349.5" x2="616.4" y2="382.7" stroke="#1a1a1a" stroke-width="1.1" stroke-dasharray="5.5 1.3"/><line x1="638.9" y1="349.5" x2="638.9" y2="382.7" stroke="#1a1a1a" stroke-width="1.1" stroke-dasharray="5.5 1.3"/><line x1="627.9" y1="339" x2="627.9" y2="455" stroke="#111" stroke-width="0.9" stroke-dasharray="15 1.3 1 1.3"/><line x1="927.4" y1="349.5" x2="927.4" y2="382.7" stroke="#1a1a1a" stroke-width="1.1" stroke-dasharray="5.5 1.3"/><line x1="950.7" y1="349.5" x2="950.7" y2="382.7" stroke="#1a1a1a" stroke-width="1.1" stroke-dasharray="5.5 1.3"/><line x1="938.7" y1="339" x2="938.7" y2="455" stroke="#111" stroke-width="0.9" stroke-dasharray="15 1.3 1 1.3"/><path d="M580.7,298.8 C590,294 599,292 609.6,291.7 L609.6,298.3 C600,298.8 591,301.5 581,306 L583.5,300.5 Z" fill="#1a1a1a"/><path d="M584,300 C592,296.5 600,294.6 609.5,294.3 M584.5,303 C593,299.5 600,297.3 609.5,296.8" stroke="#666" stroke-width="0.5" fill="none"/><path d="M616.07,287.1 H611.81 Q609.2,287.1 609.2,289.71 V300.79 Q609.2,303.4 611.81,303.4 H622.94 V287.1 Z" fill="#fff" stroke="#111" stroke-width="1.2"/><path d="M615.96,287.1 V303.4 M619.28,287.1 V303.4" stroke="#111" stroke-width="1.32"/><line x1="615.96" y1="291.18" x2="619.28" y2="291.18" stroke="#111" stroke-width="1.92"/><line x1="615.96" y1="295.25" x2="619.28" y2="295.25" stroke="#111" stroke-width="1.92"/><line x1="615.96" y1="299.32" x2="619.28" y2="299.32" stroke="#111" stroke-width="1.92"/><path d="M620.65,287.1 V303.4 M622.02,287.1 V303.4" stroke="#111" stroke-width="0.96"/><rect x="622.94" y="287.92" width="4.12" height="14.67" fill="#fff" stroke="#111" stroke-width="1.2"/><path d="M624.31,287.92 V302.58 M625.69,287.92 V302.58" stroke="#555" stroke-width="0.96"/><rect x="627.06" y="287.1" width="5.04" height="16.30" fill="#fff" stroke="#111" stroke-width="1.2"/><path d="M628.21,287.1 V303.4 M630.50,287.1 V303.4" stroke="#111" stroke-width="1.2"/><line x1="628.21" y1="291.18" x2="630.50" y2="291.18" stroke="#111" stroke-width="1.68"/><line x1="628.21" y1="295.25" x2="630.50" y2="295.25" stroke="#111" stroke-width="1.68"/><line x1="628.21" y1="299.32" x2="630.50" y2="299.32" stroke="#111" stroke-width="1.68"/><line x1="631.50" y1="287.1" x2="631.50" y2="303.4" stroke="#111" stroke-width="1.92"/><line x1="555.7" y1="348.8" x2="594.1" y2="348.8" stroke="#111" stroke-width="1.15"/><line x1="555.7" y1="383.4" x2="594.1" y2="383.4" stroke="#111" stroke-width="1.15"/><line x1="561.3" y1="348.8" x2="561.3" y2="383.4" stroke="#111" stroke-width="1.15"/><path d="M561.3,348.8 L563.40,360.00 L559.20,360.00 Z" fill="#111"/><path d="M561.3,383.4 L559.20,372.20 L563.40,372.20 Z" fill="#111"/><g transform="rotate(-90 551.9 366.3)" fill="none" stroke="#111" stroke-width="1.25" stroke-linecap="round" stroke-linejoin="round" style="vector-effect:none"><path vector-effect="non-scaling-stroke" transform="translate(542.07,360.12) scale(12.350)" d="M0.02,0.27 A0.3,0.27 0 0 1 0.62,0.27 C0.62,0.5 0.08,0.7 0,1 H0.64"/><path vector-effect="non-scaling-stroke" transform="translate(554.93,360.12) scale(12.350)" d="M0,0.28 A0.275,0.28 0 0 1 0.55,0.28 V0.72 A0.275,0.28 0 0 1 0,0.72 Z"/></g><line x1="597.3" y1="386.3" x2="597.3" y2="486" stroke="#111" stroke-width="1.15"/><line x1="969.3" y1="386.3" x2="969.3" y2="486" stroke="#111" stroke-width="1.15"/><line x1="616.4" y1="386.3" x2="616.4" y2="425" stroke="#111" stroke-width="1.15"/><line x1="638.9" y1="386.3" x2="638.9" y2="425" stroke="#111" stroke-width="1.15"/><line x1="590" y1="418.8" x2="777.5" y2="418.8" stroke="#111" stroke-width="1.15"/><path d="M616.4,418.8 L605.20,420.90 L605.20,416.70 Z" fill="#111"/><path d="M638.9,418.8 L650.10,416.70 L650.10,420.90 Z" fill="#111"/><g fill="none" stroke="#111" stroke-width="1.3" stroke-linecap="round" stroke-linejoin="round" style="vector-effect:none"><path vector-effect="non-scaling-stroke" transform="translate(668.45,402.65) scale(12.400)" d="M0.5,1 V0 L0,0.7 H0.66"/><path vector-effect="non-scaling-stroke" transform="translate(692.67,402.65) scale(12.400)" d="M0,0 H0.62 M0.31,0 V1"/><path vector-effect="non-scaling-stroke" transform="translate(705.40,402.65) scale(12.400)" d="M0.56,0.68 A0.28,0.32 0 1 0 0,0.68 A0.28,0.32 0 1 0 0.56,0.68 M0.58,0.36 V1"/><path vector-effect="non-scaling-stroke" transform="translate(717.64,402.65) scale(12.400)" d="M0.02,0 V0.88 Q0.02,1 0.2,1"/><path vector-effect="non-scaling-stroke" transform="translate(725.41,402.65) scale(12.400)" d="M0.05,0.92 V1"/><path vector-effect="non-scaling-stroke" transform="translate(742.94,402.65) scale(12.400)" d="M0.36,0.13 A0.36,0.36 0 1 1 0.359,0.13 Z M0.09,1.0 L0.63,0.02"/><path vector-effect="non-scaling-stroke" transform="translate(756.91,402.65) scale(12.400)" d="M0,0.2 L0.24,0 V1 M0.02,1 H0.42"/><path vector-effect="non-scaling-stroke" transform="translate(766.91,402.65) scale(12.400)" d="M0.02,0.16 C0.1,0.04 0.2,0 0.3,0 A0.27,0.235 0 0 1 0.3,0.47 H0.2 M0.3,0.47 A0.3,0.265 0 0 1 0.3,1 C0.18,1 0.06,0.96 0,0.84"/></g><line x1="627.9" y1="449" x2="938.7" y2="449" stroke="#111" stroke-width="1.15"/><path d="M627.9,449 L639.10,446.90 L639.10,451.10 Z" fill="#111"/><path d="M938.7,449 L927.50,451.10 L927.50,446.90 Z" fill="#111"/><g fill="none" stroke="#111" stroke-width="1.35" stroke-linecap="round" stroke-linejoin="round" style="vector-effect:none"><path vector-effect="non-scaling-stroke" transform="translate(749.27,432.68) scale(12.650)" d="M0,0.2 L0.24,0 V1 M0.02,1 H0.42"/><path vector-effect="non-scaling-stroke" transform="translate(759.00,432.68) scale(12.650)" d="M0.32,0.48 A0.26,0.24 0 1 1 0.321,0.48 Z M0.32,0.48 A0.32,0.26 0 1 0 0.321,0.48 Z"/><path vector-effect="non-scaling-stroke" transform="translate(771.75,432.68) scale(12.650)" d="M0,0.28 A0.275,0.28 0 0 1 0.55,0.28 V0.72 A0.275,0.28 0 0 1 0,0.72 Z"/><path vector-effect="non-scaling-stroke" transform="translate(783.37,432.68) scale(12.650)" d="M0,0.3 L0.66,1 M0.66,0.3 L0,1"/><path vector-effect="non-scaling-stroke" transform="translate(796.38,432.68) scale(12.650)" d="M0.32,0.48 A0.26,0.24 0 1 1 0.321,0.48 Z M0.32,0.48 A0.32,0.26 0 1 0 0.321,0.48 Z"/><path vector-effect="non-scaling-stroke" transform="translate(809.14,432.68) scale(12.650)" d="M0.55,0.06 C0.47,0.02 0.38,0 0.3,0 C0.1,0 0,0.22 0,0.5 V0.7 A0.3,0.3 0 0 0 0.6,0.7 A0.3,0.3 0 0 0 0,0.7"/></g><line x1="597.3" y1="479" x2="969.3" y2="479" stroke="#111" stroke-width="1.15"/><path d="M597.3,479 L608.50,476.90 L608.50,481.10 Z" fill="#111"/><path d="M969.3,479 L958.10,481.10 L958.10,476.90 Z" fill="#111"/><g fill="none" stroke="#111" stroke-width="1.35" stroke-linecap="round" stroke-linejoin="round" style="vector-effect:none"><path vector-effect="non-scaling-stroke" transform="translate(745.47,463.68) scale(12.850)" d="M0.02,0.27 A0.3,0.27 0 0 1 0.62,0.27 C0.62,0.5 0.08,0.7 0,1 H0.64"/><path vector-effect="non-scaling-stroke" transform="translate(757.80,463.68) scale(12.850)" d="M0,0.2 L0.24,0 V1 M0.02,1 H0.42"/><path vector-effect="non-scaling-stroke" transform="translate(767.31,463.68) scale(12.850)" d="M0.58,0 H0.08 L0.04,0.42 C0.12,0.38 0.22,0.36 0.3,0.36 A0.3,0.32 0 0 1 0.3,1 C0.18,1 0.06,0.96 0,0.85"/><path vector-effect="non-scaling-stroke" transform="translate(779.38,463.68) scale(12.850)" d="M0,0.3 L0.66,1 M0.66,0.3 L0,1"/><path vector-effect="non-scaling-stroke" transform="translate(792.22,463.68) scale(12.850)" d="M0,0.2 L0.24,0 V1 M0.02,1 H0.42"/><path vector-effect="non-scaling-stroke" transform="translate(801.73,463.68) scale(12.850)" d="M0.02,0.27 A0.3,0.27 0 0 1 0.62,0.27 C0.62,0.5 0.08,0.7 0,1 H0.64"/><path vector-effect="non-scaling-stroke" transform="translate(814.06,463.68) scale(12.850)" d="M0,0.28 A0.275,0.28 0 0 1 0.55,0.28 V0.72 A0.275,0.28 0 0 1 0,0.72 Z"/></g><line x1="972" y1="383.4" x2="1009" y2="383.4" stroke="#111" stroke-width="1.15"/><line x1="1001.8" y1="173.6" x2="1001.8" y2="383.4" stroke="#111" stroke-width="1.15"/><path d="M1001.8,173.6 L1003.90,184.80 L999.70,184.80 Z" fill="#111"/><path d="M1001.8,383.4 L999.70,372.20 L1003.90,372.20 Z" fill="#111"/><g transform="rotate(-90 992.3 279.1)" fill="none" stroke="#111" stroke-width="1.25" stroke-linecap="round" stroke-linejoin="round" style="vector-effect:none"><path vector-effect="non-scaling-stroke" transform="translate(979.52,272.73) scale(12.750)" d="M0,0.2 L0.24,0 V1 M0.02,1 H0.42"/><path vector-effect="non-scaling-stroke" transform="translate(988.35,272.73) scale(12.750)" d="M0.02,0.27 A0.3,0.27 0 0 1 0.62,0.27 C0.62,0.5 0.08,0.7 0,1 H0.64"/><path vector-effect="non-scaling-stroke" transform="translate(999.97,272.73) scale(12.750)" d="M0,0.2 L0.24,0 V1 M0.02,1 H0.42"/></g>
<g>
<text x="613.5" y="523.9" font-size="18" fill="#141414" stroke="#141414" stroke-width="0.4" textLength="114" lengthAdjust="spacingAndGlyphs">Capacidad (Kg)</text>
<text x="612.2" y="547.8" font-size="16.8" font-style="italic" fill="#777" stroke="#777" stroke-width="0.15" textLength="130.5" lengthAdjust="spacingAndGlyphs">Capacity - Capacité</text>
<text x="863.9" y="547.7" font-size="19.2" fill="#141414" stroke="#141414" stroke-width="0.3" text-anchor="end">A</text>
<text x="926.7" y="547.7" font-size="19.2" fill="#141414" stroke="#141414" stroke-width="0.3" text-anchor="end">B</text>
<rect x="613.5" y="558.2" width="325.2" height="1.7" fill="#555"/>
<g fill="#141414" stroke="#141414" stroke-width="0.2">
<text x="613.7" y="581.6" font-size="18.8" class="sans" textLength="19.7" lengthAdjust="spacingAndGlyphs">10</text>
<text x="656.5" y="581.6" font-size="18.8" class="sans" textLength="19.7" lengthAdjust="spacingAndGlyphs">15</text>
<text x="699.3" y="581.6" font-size="18.8" class="sans" textLength="19.7" lengthAdjust="spacingAndGlyphs">25</text>
<text x="742.7" y="581.6" font-size="18.8" class="sans" textLength="50.5" lengthAdjust="spacingAndGlyphs">...500</text>
<text x="613.7" y="613.9" font-size="18.8" class="sans" textLength="29.2" lengthAdjust="spacingAndGlyphs">750</text>
<text x="666.6" y="613.9" font-size="18.8" class="sans" textLength="40.1" lengthAdjust="spacingAndGlyphs">1000</text>
<text x="730.7" y="613.9" font-size="18.8" class="sans" textLength="39.1" lengthAdjust="spacingAndGlyphs">1500</text>
<line x1="640.9" y1="585.6" x2="647.1" y2="567.4" stroke-width="1.5"/>
<line x1="682.7" y1="585.6" x2="689.0" y2="567.4" stroke-width="1.5"/>
<line x1="725.6" y1="585.6" x2="731.8" y2="567.4" stroke-width="1.5"/>
<line x1="650.4" y1="617.9" x2="656.6" y2="599.7" stroke-width="1.5"/>
<line x1="714.2" y1="617.9" x2="720.4" y2="599.7" stroke-width="1.5"/>
<text x="833" y="581.6" font-size="18.8" class="sans" textLength="31.6" lengthAdjust="spacingAndGlyphs">ø75</text>
<text x="823.3" y="613.9" font-size="18.8" class="sans" textLength="41.3" lengthAdjust="spacingAndGlyphs">ø100</text>
</g>
<text x="893.7" y="581.6" font-size="18" fill="#141414" stroke="#141414" stroke-width="0.35" textLength="33" lengthAdjust="spacingAndGlyphs">M12</text>
<text x="893.7" y="613.9" font-size="18" fill="#141414" stroke="#141414" stroke-width="0.35" textLength="33" lengthAdjust="spacingAndGlyphs">M16</text>
</g>
</svg>
</body></html>
